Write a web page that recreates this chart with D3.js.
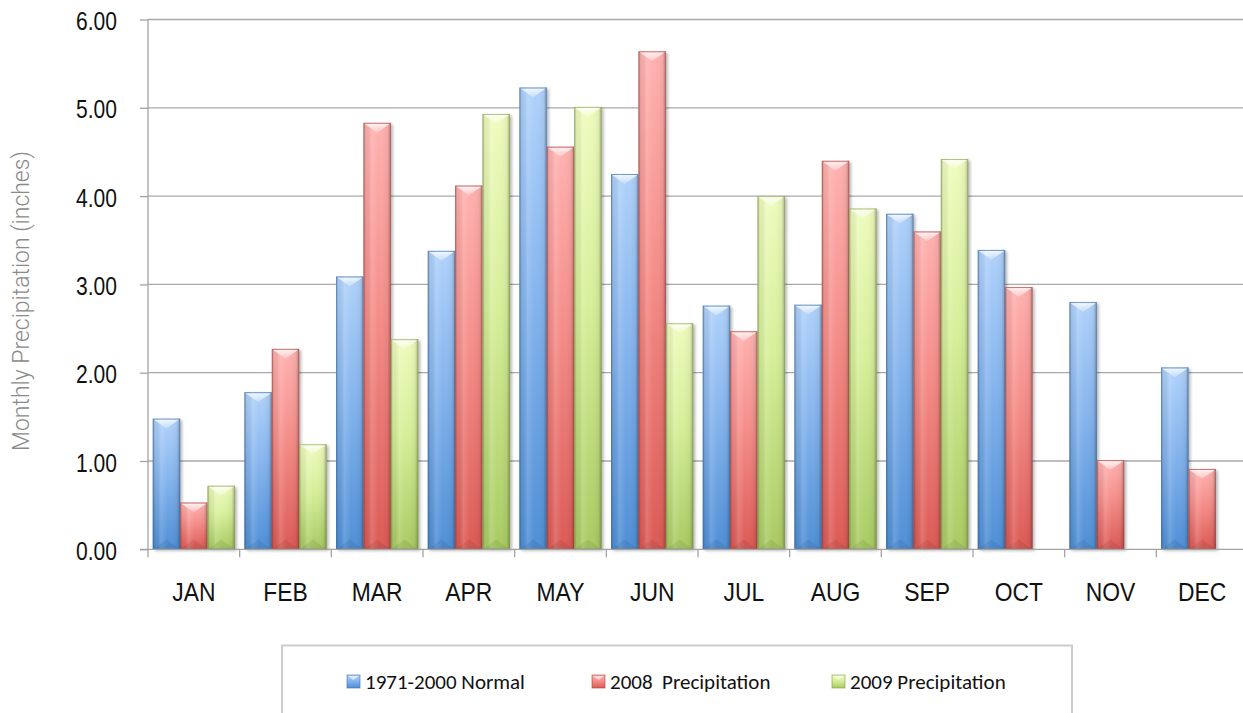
<!DOCTYPE html>
<html>
<head>
<meta charset="utf-8">
<script src="https://cdn.jsdelivr.net/npm/d3@7/dist/d3.min.js"></script>
<style>
  html, body { margin: 0; padding: 0; background: #fff; }
  svg { display: block; }
</style>
</head>
<body>
<svg id="chart" width="1243" height="713"></svg>
<script>
// Monthly precipitation (inches)
const months = ["JAN","FEB","MAR","APR","MAY","JUN","JUL","AUG","SEP","OCT","NOV","DEC"];
const seriesNames = ["1971-2000 Normal", "2008  Precipitation", "2009 Precipitation"];
const normal1971_2000 = [1.48, 1.78, 3.09, 3.38, 5.23, 4.25, 2.76, 2.77, 3.80, 3.39, 2.80, 2.06];
const precip2008      = [0.53, 2.27, 4.83, 4.12, 4.56, 5.64, 2.47, 4.40, 3.60, 2.97, 1.01, 0.91];
const precip2009      = [0.72, 1.19, 2.38, 4.93, 5.01, 2.56, 4.00, 3.86, 4.42, null, null, null];
const yTicks = [0, 1, 2, 3, 4, 5, 6];
const yAxisTitle = "Monthly Precipitation (inches)";

const seriesValues = [normal1971_2000, precip2008, precip2009];
const palette = [
  { top: "#b0d2fb", mid: "#86b5ee", bottom: "#4f8fd6", edge: "#3d6fa8" },
  { top: "#ffb2b0", mid: "#f58d89", bottom: "#dc5a55", edge: "#a4413e" },
  { top: "#eefbbd", mid: "#d6ef99", bottom: "#a9cb63", edge: "#7e9a48" }
];

const svg = d3.select("#chart");
const plot = { left: 148, right: 1248, top: 19.5, bottom: 549.3 };

const x0 = d3.scaleBand().domain(months).range([plot.left, plot.right])
  .paddingInner(0.104).paddingOuter(0.052);
const x1 = d3.scaleBand().domain(d3.range(seriesNames.length)).range([0, x0.bandwidth()]);
const y = d3.scaleLinear().domain([0, 6]).range([plot.bottom, plot.top]);

const labelFont = "'Liberation Sans', Arial, sans-serif";

// ---- gradients & filters ----
const defs = svg.append("defs");
palette.forEach((c, i) => {
  const g = defs.append("linearGradient").attr("id", "fill" + i)
    .attr("x1", 0).attr("y1", 0).attr("x2", 0).attr("y2", 1);
  g.append("stop").attr("offset", "0%").attr("stop-color", c.top);
  g.append("stop").attr("offset", "45%").attr("stop-color", c.mid);
  g.append("stop").attr("offset", "100%").attr("stop-color", c.bottom);
});
const side = defs.append("linearGradient").attr("id", "sideShade")
  .attr("x1", 0).attr("y1", 0).attr("x2", 1).attr("y2", 0);
[["0%", "#000", 0.24], ["9%", "#000", 0.05], ["30%", "#fff", 0.14], ["55%", "#fff", 0.0],
 ["88%", "#000", 0.05], ["100%", "#000", 0.27]].forEach(([o, c, a]) =>
  side.append("stop").attr("offset", o).attr("stop-color", c).attr("stop-opacity", a));
const capG = defs.append("linearGradient").attr("id", "capShade")
  .attr("x1", 0).attr("y1", 0).attr("x2", 0).attr("y2", 1);
capG.append("stop").attr("offset", "0%").attr("stop-color", "#fff").attr("stop-opacity", 0.8);
capG.append("stop").attr("offset", "100%").attr("stop-color", "#fff").attr("stop-opacity", 0.25);
const blur = defs.append("filter").attr("id", "shadow")
  .attr("x", "-30%").attr("y", "-10%").attr("width", "160%").attr("height", "120%");
blur.append("feGaussianBlur").attr("stdDeviation", 1.6);

// ---- gridlines ----
svg.append("g").selectAll("line").data(yTicks.filter(d => d > 0)).join("line")
  .attr("x1", plot.left).attr("x2", 1243)
  .attr("y1", d => y(d)).attr("y2", d => y(d))
  .attr("stroke", "#a9a9a9").attr("stroke-width", 1.3);

// ---- bars ----
function drawBar(g, bx, by, bw, bh, si) {
  const c = palette[si];
  g.append("rect").attr("x", bx + 2).attr("y", by + 1.5).attr("width", bw).attr("height", bh)
    .attr("fill", "#000").attr("opacity", 0.28).attr("filter", "url(#shadow)");
  g.append("rect").attr("x", bx).attr("y", by).attr("width", bw).attr("height", bh)
    .attr("fill", `url(#fill${si})`);
  g.append("rect").attr("x", bx).attr("y", by).attr("width", bw).attr("height", bh)
    .attr("fill", "url(#sideShade)");
  const d = Math.min(bw * 0.36, bh / 2);
  g.append("polygon")
    .attr("points", [[bx + 1, by + 1], [bx + bw - 1, by + 1], [bx + bw / 2, by + d]].join(" "))
    .attr("fill", "url(#capShade)");
  g.append("polygon")
    .attr("points", [[bx + 1, by + bh - 0.5], [bx + bw - 1, by + bh - 0.5], [bx + bw / 2, by + bh - d]].join(" "))
    .attr("fill", "#000").attr("opacity", 0.07);
  g.append("rect").attr("x", bx + 0.5).attr("y", by + 0.5).attr("width", bw - 1).attr("height", Math.max(0, bh - 1))
    .attr("fill", "none").attr("stroke", c.edge).attr("stroke-opacity", 0.55).attr("stroke-width", 1);
}

const barsG = svg.append("g");
months.forEach((m, mi) => {
  seriesValues.forEach((vals, si) => {
    const v = vals[mi];
    if (v == null) return;
    const bx = x0(m) + x1(si);
    const by = y(v);
    drawBar(barsG.append("g"), bx, by, x1.bandwidth(), y(0) - by, si);
  });
});

// ---- axes ----
const yAxis = d3.axisLeft(y).tickValues(yTicks).tickSize(8).tickFormat(d3.format(".2f")).tickPadding(0);
const yg = svg.append("g").attr("transform", `translate(${plot.left},0)`).call(yAxis);
yg.select(".domain").attr("stroke", "#a3a3a3").attr("stroke-width", 1.3).attr("d", `M0,${plot.top}V${plot.bottom}`);
yg.selectAll(".tick line").attr("stroke", "#a3a3a3").attr("stroke-width", 1.3);
// narrow, tall numerals: scale the glyphs horizontally around their anchor
yg.selectAll(".tick text")
  .attr("x", 0).attr("dy", 0).attr("y", 0)
  .attr("transform", "translate(-31,10) scale(0.81,1)")
  .attr("font-family", labelFont).attr("font-size", 26).attr("fill", "#111");

const xAxis = d3.axisBottom(x0).tickSize(0).tickPadding(0);
const xg = svg.append("g").attr("transform", `translate(0,${plot.bottom})`).call(xAxis);
xg.select(".domain").attr("stroke", "#a3a3a3").attr("stroke-width", 1.3).attr("d", `M${plot.left - 8},0H1243`);
xg.selectAll(".tick text")
  .attr("x", 0).attr("y", 0).attr("dy", 0)
  .attr("transform", "translate(0,52) scale(0.88,1)")
  .attr("font-family", labelFont).attr("font-size", 26).attr("fill", "#111");
// category boundary ticks
const step = x0.step();
svg.append("g").selectAll("line").data(d3.range(months.length + 1)).join("line")
  .attr("x1", i => plot.left + i * step).attr("x2", i => plot.left + i * step)
  .attr("y1", plot.bottom).attr("y2", plot.bottom + 8)
  .attr("stroke", "#a3a3a3").attr("stroke-width", 1.3);

// ---- y axis title ----
svg.append("text")
  .attr("transform", `translate(29,${301}) rotate(-90)`)
  .attr("text-anchor", "middle")
  .attr("font-family", "Roboto, 'Liberation Sans', sans-serif").attr("font-weight", 300)
  .attr("font-size", 23).attr("fill", "#8a8a8a")
  .text(yAxisTitle);

// ---- legend ----
const legend = svg.append("g");
legend.append("rect").attr("x", 282).attr("y", 645.5).attr("width", 790).attr("height", 90)
  .attr("fill", "#fff").attr("stroke", "#cdcdcd").attr("stroke-width", 2);
const legendX = [347, 592, 832];
seriesNames.forEach((name, si) => {
  const g = legend.append("g").attr("transform", `translate(${legendX[si]},675)`);
  const c = palette[si];
  g.append("rect").attr("width", 13).attr("height", 13).attr("fill", `url(#fill${si})`)
    .attr("stroke", c.edge).attr("stroke-opacity", 0.6);
  g.append("polygon").attr("points", "1,1 12,1 6.5,5").attr("fill", "#fff").attr("opacity", 0.6);
  g.append("text").attr("x", 18).attr("y", 14)
    .attr("font-family", "Carlito, Lato, 'Open Sans', sans-serif").attr("font-size", 21)
    .attr("fill", "#111").attr("xml:space", "preserve").style("white-space", "pre")
    .text(name);
});
</script>
</body>
</html>
